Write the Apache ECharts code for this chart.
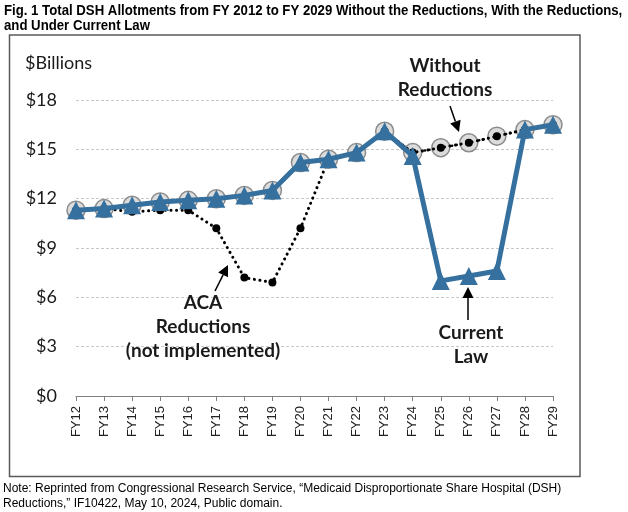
<!DOCTYPE html>
<html>
<head>
<meta charset="utf-8">
<script src="https://cdn.jsdelivr.net/npm/echarts@6/dist/echarts.min.js"></script>
<style>
  html, body { margin: 0; padding: 0; background: #fff; }
  #chart { width: 628px; height: 512px; }
</style>
</head>
<body>
<div id="chart"></div>
<script>
var categories = ['FY12','FY13','FY14','FY15','FY16','FY17','FY18','FY19','FY20','FY21','FY22','FY23','FY24','FY25','FY26','FY27','FY28','FY29'];
var withoutReductions = [11.3, 11.4, 11.6, 11.8, 11.9, 12.0, 12.2, 12.5, 14.2, 14.4, 14.8, 16.1, 14.8, 15.1, 15.4, 15.8, 16.2, 16.5];
var acaReductions     = [11.3, 11.4, 11.2, 11.3, 11.3, 10.2, 7.2, 6.9, 10.2, 14.4, 14.8, 16.1, 14.8, 15.1, 15.4, 15.8, 16.2, 16.5];
var currentLaw        = [11.3, 11.4, 11.6, 11.8, 11.9, 12.0, 12.2, 12.5, 14.2, 14.4, 14.8, 16.1, 14.6, 7.0, 7.3, 7.6, 16.2, 16.5];
var yTicks = [0, 3, 6, 9, 12, 15, 18];

var titleLines = 'Fig. 1 Total DSH Allotments from FY 2012 to FY 2029 Without the Reductions, With the Reductions,\nand Under Current Law';
var noteLines = 'Note: Reprinted from Congressional Research Service, \u201cMedicaid Disproportionate Share Hospital (DSH)\nReductions,\u201d IF10422, May 10, 2024, Public domain.';

var annFont = 'Lato, "Open Sans", sans-serif';
var blue = '#35709e';

function arrow(tail, tip) {
  var dx = tip[0] - tail[0], dy = tip[1] - tail[1];
  var len = Math.sqrt(dx * dx + dy * dy);
  var ux = dx / len, uy = dy / len;
  var hl = 11, hw = 5.5;
  var bx = tip[0] - ux * hl, by = tip[1] - uy * hl;
  return [
    { type: 'line', shape: { x1: tail[0], y1: tail[1], x2: bx, y2: by }, style: { stroke: '#000', lineWidth: 1.5 }, z: 100 },
    { type: 'polygon', shape: { points: [[tip[0], tip[1]], [bx - uy * hw, by + ux * hw], [bx + uy * hw, by - ux * hw]] }, style: { fill: '#000' }, z: 100 }
  ];
}

function annText(x, y, txt) {
  return { type: 'text', x: x, y: y, z: 100,
    style: { text: txt, font: 'bold 19px ' + annFont, fill: '#1a1a1a', align: 'center', verticalAlign: 'middle', lineHeight: 24 } };
}

var chart = echarts.init(document.getElementById('chart'), null, { renderer: 'canvas' });

var graphics = [
  { type: 'rect', shape: { x: 9.5, y: 35, width: 570.5, height: 441.5 }, style: { fill: 'none', stroke: '#595959', lineWidth: 1.5 }, z: 0 },
  { type: 'text', x: 4, y: 3, scaleX: 0.91, style: { text: titleLines, font: 'bold 14.5px "Liberation Sans", Arial, sans-serif', fill: '#000', lineHeight: 15.5 } },
  { type: 'text', x: 3, y: 481, style: { text: noteLines, font: '12px "Liberation Sans", Arial, sans-serif', fill: '#000', lineHeight: 15 } },
  { type: 'text', x: 25, y: 63, style: { text: '$Billions', font: '18px ' + annFont, fill: '#1a1a1a', verticalAlign: 'middle' } },
  annText(445, 78, 'Without\nReductions'),
  annText(471, 345, 'Current\nLaw'),
  annText(203, 327, 'ACA\nReductions\n(not implemented)')
].concat(arrow([450, 106], [459, 132]))
 .concat(arrow([468, 320], [468, 287]))
 .concat(arrow([215, 291], [228, 265]));

var option = {
  animation: false,
  backgroundColor: '#fff',
  grid: { left: 76, right: 75, top: 100, bottom: 116, containLabel: false },
  xAxis: {
    type: 'category',
    data: categories,
    boundaryGap: false,
    axisLine: { show: true, lineStyle: { color: '#7f7f7f', width: 1 } },
    axisTick: { show: true, length: 5, lineStyle: { color: '#7f7f7f' } },
    axisLabel: { rotate: 90, margin: 10, fontSize: 13, color: '#222', fontFamily: '"Liberation Sans", Arial, sans-serif' },
    splitLine: { show: false }
  },
  yAxis: {
    type: 'value',
    min: 0, max: 18, interval: 3,
    axisLine: { show: false },
    axisTick: { show: false },
    axisLabel: { margin: 19, fontSize: 18, color: '#1a1a1a', fontFamily: annFont,
      formatter: function (v) { return yTicks.indexOf(v) >= 0 ? '$' + v : ''; } },
    splitLine: { show: true, lineStyle: { color: '#c8c8c8', type: [3, 2], width: 1 } }
  },
  series: [
    {
      name: 'Without Reductions', type: 'line', data: withoutReductions, z: 2,
      symbol: 'circle', symbolSize: 18, showSymbol: true,
      itemStyle: { color: '#dcdcdc', borderColor: '#8c8c8c', borderWidth: 1.5 },
      lineStyle: { color: '#000', width: 2.5, type: [0.1, 4.5], cap: 'round' }
    },
    {
      name: 'ACA Reductions', type: 'line', data: acaReductions, z: 3,
      symbol: 'circle', symbolSize: 8,
      itemStyle: { color: '#000', borderWidth: 0 },
      lineStyle: { color: '#000', width: 3, type: [0.1, 5.5], cap: 'round' }
    },
    {
      name: 'Current Law', type: 'line', data: currentLaw, z: 4,
      symbol: 'triangle', symbolSize: 18,
      itemStyle: { color: blue, borderWidth: 0 },
      lineStyle: { color: blue, width: 5 }
    }
  ],
  graphic: graphics
};
chart.setOption(option);
</script>
</body>
</html>
